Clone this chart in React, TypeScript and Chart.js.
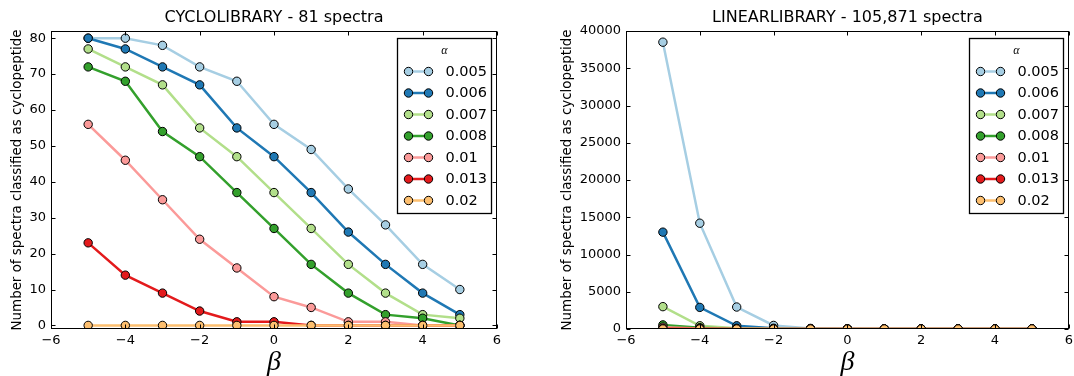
import React, { useEffect, useRef } from 'react';
import { Chart, registerables } from 'chart.js';

Chart.register(...registerables);

// ---------- data ----------
const betas = [-5, -4, -3, -2, -1, 0, 1, 2, 3, 4, 5];
const alphaLabels = ['0.005', '0.006', '0.007', '0.008', '0.01', '0.013', '0.02'];
const seriesColors = ['#a6cee3', '#1f78b4', '#b2df8a', '#33a02c', '#fb9a99', '#e31a1c', '#fdbf6f'];

const cyclo005 = [80, 80, 78, 72, 68, 56, 49, 38, 28, 17, 10];
const cyclo006 = [80, 77, 72, 67, 55, 47, 37, 26, 17, 9, 3];
const cyclo007 = [77, 72, 67, 55, 47, 37, 27, 17, 9, 3, 2];
const cyclo008 = [72, 68, 54, 47, 37, 27, 17, 9, 3, 2, 0];
const cyclo010 = [56, 46, 35, 24, 16, 8, 5, 1, 1, 0, 0];
const cyclo013 = [23, 14, 9, 4, 1, 1, 0, 0, 0, 0, 0];
const cyclo020 = [0, 0, 0, 0, 0, 0, 0, 0, 0, 0, 0];

const linear005 = [38500, 14200, 2950, 480, 80, 20, 5, 0, 0, 0, 0];
const linear006 = [13000, 2900, 430, 100, 20, 5, 0, 0, 0, 0, 0];
const linear007 = [3000, 430, 100, 20, 5, 0, 0, 0, 0, 0, 0];
const linear008 = [550, 180, 30, 5, 0, 0, 0, 0, 0, 0, 0];
const linear010 = [250, 60, 10, 0, 0, 0, 0, 0, 0, 0, 0];
const linear013 = [80, 20, 0, 0, 0, 0, 0, 0, 0, 0, 0];
const linear020 = [0, 0, 0, 0, 0, 0, 0, 0, 0, 0, 0];

const cycloSeries = [cyclo005, cyclo006, cyclo007, cyclo008, cyclo010, cyclo013, cyclo020];
const linearSeries = [linear005, linear006, linear007, linear008, linear010, linear013, linear020];

const xTicks = [-6, -4, -2, 0, 2, 4, 6];
const cycloYTicks = [0, 10, 20, 30, 40, 50, 60, 70, 80];
const linearYTicks = [0, 5000, 10000, 15000, 20000, 25000, 30000, 35000, 40000];

const cycloTitle = 'CYCLOLIBRARY - 81 spectra';
const linearTitle = 'LINEARLIBRARY - 105,871 spectra';
const yAxisTitle = 'Number of spectra classified as cyclopeptide';
const xAxisTitle = 'β';
const legendTitle = 'α';

// ---------- helpers ----------
const fmtX = (v: number) => (v < 0 ? '\u2212' + Math.abs(v) : String(v));

const decorPlugin = {
  id: 'mplDecor',
  afterDraw(chart: any, _args: any, opts: any) {
    const { ctx, chartArea: a } = chart;
    const xs = chart.scales.x;
    const ys = chart.scales.y;
    ctx.save();
    ctx.strokeStyle = '#000';
    ctx.lineWidth = 1;
    const L = Math.round(a.left) + 0.5;
    const R = Math.round(a.right) - 0.5;
    const T = Math.round(a.top) + 0.5;
    const B = Math.round(a.bottom) - 0.5;
    ctx.beginPath();
    for (const t of xs.ticks) {
      const px = Math.round(xs.getPixelForValue(t.value)) + 0.5;
      ctx.moveTo(px, B);
      ctx.lineTo(px, B - 4);
      ctx.moveTo(px, T);
      ctx.lineTo(px, T + 4);
    }
    for (const t of ys.ticks) {
      const py = Math.round(ys.getPixelForValue(t.value)) + 0.5;
      ctx.moveTo(L, py);
      ctx.lineTo(L + 4, py);
      ctx.moveTo(R, py);
      ctx.lineTo(R - 4, py);
    }
    ctx.stroke();
    ctx.strokeRect(L, T, R - L, B - T);

    // title
    ctx.fillStyle = '#000';
    ctx.font = '16px "DejaVu Sans"';
    ctx.textAlign = 'center';
    ctx.textBaseline = 'middle';
    ctx.fillText(opts.title, (a.left + a.right) / 2, 18);

    // legend
    const bw = 94;
    const bh = 175;
    const bx = Math.round(a.right - 6 - bw) + 0.5;
    const by = Math.round(a.top + 7) + 0.5;
    ctx.fillStyle = '#fff';
    ctx.fillRect(bx, by, bw, bh);
    ctx.lineWidth = 1.3;
    ctx.strokeStyle = '#000';
    ctx.strokeRect(bx, by, bw, bh);
    ctx.fillStyle = '#000';
    ctx.font = 'italic 12px "Liberation Serif"';
    ctx.textAlign = 'center';
    ctx.fillText(opts.legendTitle, bx + bw / 2, by + 12);
    const dsList = chart.data.datasets;
    dsList.forEach((ds: any, i: number) => {
      const y = by + 33 + i * 21.5;
      const x1 = bx + 11;
      const x2 = bx + 31;
      ctx.strokeStyle = ds.borderColor;
      ctx.lineWidth = 2.5;
      ctx.beginPath();
      ctx.moveTo(x1, y);
      ctx.lineTo(x2, y);
      ctx.stroke();
      for (const cx of [x1, x2]) {
        ctx.beginPath();
        ctx.arc(cx, y, 4.2, 0, Math.PI * 2);
        ctx.fillStyle = ds.pointBackgroundColor;
        ctx.fill();
        ctx.lineWidth = 1;
        ctx.strokeStyle = '#000';
        ctx.stroke();
      }
      ctx.fillStyle = '#000';
      ctx.font = '14.5px "DejaVu Sans"';
      ctx.textAlign = 'left';
      ctx.fillText(ds.label, bx + 48, y + 0.5);
    });
    ctx.restore();
  },
};

function makeConfig(
  series: number[][],
  yMin: number,
  yMax: number,
  yTicks: number[],
  yAxisWidth: number,
  rightPad: number,
  yTitlePad: number,
  title: string
): any {
  const n = series.length;
  return {
    type: 'line',
    data: {
      datasets: series.map((vals, i) => ({
        label: alphaLabels[i],
        data: betas.map((b, j) => ({ x: b, y: vals[j] })),
        borderColor: seriesColors[i],
        backgroundColor: seriesColors[i],
        pointBackgroundColor: seriesColors[i],
        pointBorderColor: '#000',
        pointBorderWidth: 1,
        pointRadius: 4.2,
        borderWidth: 2.5,
        tension: 0,
        fill: false,
        order: n - 1 - i,
      })),
    },
    options: {
      responsive: false,
      animation: false,
      devicePixelRatio: 1,
      layout: { padding: { left: 0, right: rightPad, top: 31, bottom: 0 } },
      plugins: {
        legend: { display: false },
        tooltip: { enabled: false },
        title: { display: false },
        mplDecor: { title, legendTitle },
      },
      scales: {
        x: {
          type: 'linear',
          min: -6,
          max: 6,
          afterBuildTicks: (s: any) => {
            s.ticks = xTicks.map((v) => ({ value: v }));
          },
          afterFit: (s: any) => {
            s.height = 47;
            s.paddingLeft = 0;
            s.paddingRight = 0;
          },
          grid: { display: false, drawTicks: false },
          border: { display: false },
          ticks: {
            padding: 4,
            autoSkip: false,
            maxRotation: 0,
            color: '#000',
            font: { family: 'DejaVu Sans', size: 13 },
            callback: (v: any) => fmtX(Number(v)),
          },
          title: {
            display: true,
            text: xAxisTitle,
            color: '#000',
            font: { family: 'Liberation Serif', style: 'italic', size: 28 },
            padding: { top: 0, bottom: -3 },
          },
        },
        y: {
          type: 'linear',
          min: yMin,
          max: yMax,
          afterBuildTicks: (s: any) => {
            s.ticks = yTicks.map((v) => ({ value: v }));
          },
          afterFit: (s: any) => {
            s.width = yAxisWidth;
            s.paddingTop = 0;
            s.paddingBottom = 0;
          },
          grid: { display: false, drawTicks: false },
          border: { display: false },
          ticks: {
            padding: 5,
            autoSkip: false,
            color: '#000',
            font: { family: 'DejaVu Sans', size: 13 },
            callback: (v: any) => String(v),
          },
          title: {
            display: true,
            text: yAxisTitle,
            color: '#000',
            font: { family: 'DejaVu Sans', size: 13.4 },
            padding: { top: yTitlePad, bottom: 0 },
          },
        },
      },
    },
    plugins: [decorPlugin],
  };
}

function Panel({ left, config }: { left: number; config: () => any }) {
  const ref = useRef<HTMLCanvasElement | null>(null);
  useEffect(() => {
    if (!ref.current) return;
    const chart = new Chart(ref.current, config());
    return () => chart.destroy();
  }, []);
  return (
    <canvas
      ref={ref}
      width={537}
      height={376}
      style={{ position: 'absolute', left, top: 0, width: 537, height: 376 }}
    />
  );
}

export default function App() {
  return (
    <div style={{ position: 'absolute', left: 0, top: 0, width: 1074, height: 376, background: '#fff', overflow: 'hidden' }}>
      <Panel left={0} config={() => makeConfig(cycloSeries, -1, 82, cycloYTicks, 51, 40, 9, cycloTitle)} />
      <Panel left={537} config={() => makeConfig(linearSeries, 0, 40000, linearYTicks, 89, 2, 22, linearTitle)} />
    </div>
  );
}
